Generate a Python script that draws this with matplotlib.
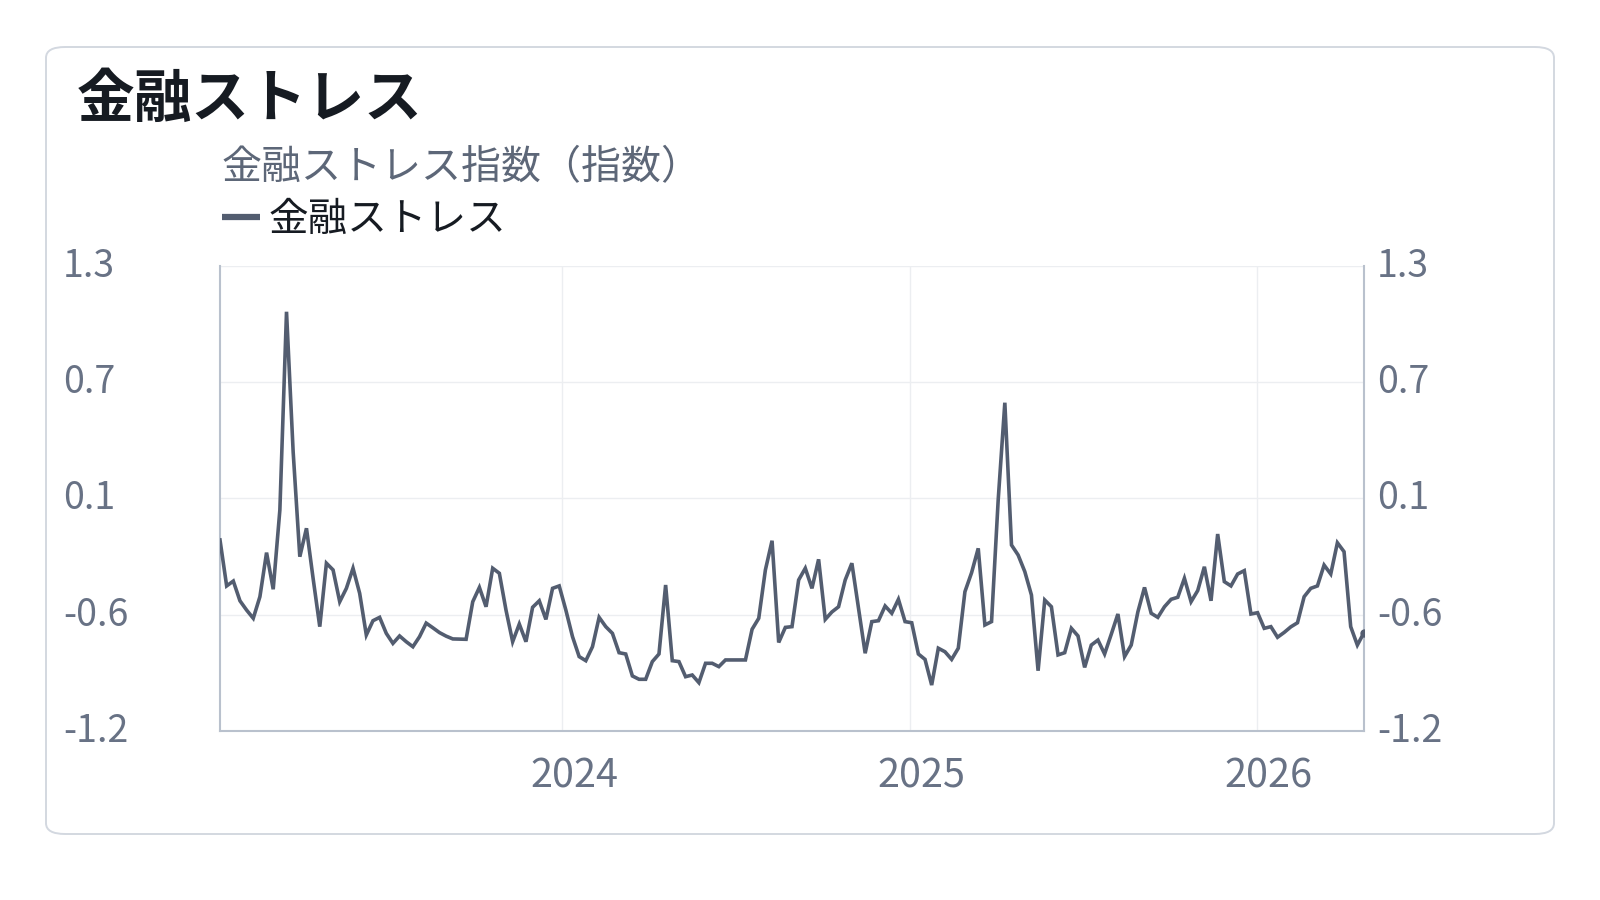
import matplotlib
matplotlib.use('Agg')
import matplotlib.pyplot as plt
import matplotlib.dates as mdates
from matplotlib.patches import FancyBboxPatch
from matplotlib.transforms import ScaledTranslation
import pandas as pd

plt.rcParams['font.family'] = ['Noto Sans CJK JP', 'DejaVu Sans']

# ---------------- data ----------------
title = '金融ストレス'
subtitle = '金融ストレス指数（指数）'
series_name = '金融ストレス'

start_date = '2023-01-06'
values = [
    -0.173, -0.42, -0.394, -0.50, -0.55, -0.594, -0.478, -0.241, -0.438, -0.012,
    1.054, 0.30, -0.263, -0.11, -0.38, -0.639, -0.298, -0.334, -0.505, -0.433,
    -0.325, -0.46, -0.684, -0.607, -0.589, -0.675, -0.729, -0.689, -0.72, -0.747,
    -0.693, -0.62, -0.645, -0.671, -0.69, -0.705, -0.706, -0.707, -0.505, -0.428,
    -0.532, -0.325, -0.352, -0.55, -0.72, -0.625, -0.72, -0.535, -0.50, -0.60,
    -0.433, -0.42, -0.55, -0.693, -0.80, -0.822, -0.747, -0.589, -0.639, -0.675,
    -0.779, -0.786, -0.904, -0.922, -0.922, -0.827, -0.786, -0.415, -0.822, -0.827,
    -0.908, -0.899, -0.94, -0.836, -0.836, -0.854, -0.818, -0.818, -0.818, -0.818,
    -0.653, -0.594, -0.334, -0.177, -0.724, -0.643, -0.639, -0.388, -0.325, -0.433,
    -0.277, -0.60, -0.56, -0.532, -0.388, -0.298, -0.54, -0.782, -0.612, -0.607,
    -0.528, -0.567, -0.492, -0.612, -0.618, -0.786, -0.815, -0.953, -0.755, -0.774,
    -0.815, -0.755, -0.451, -0.349, -0.218, -0.63, -0.612, 0.042, 0.565, -0.20,
    -0.254, -0.343, -0.469, -0.876, -0.496, -0.532, -0.791, -0.779, -0.648, -0.689,
    -0.858, -0.738, -0.711, -0.786, -0.68, -0.571, -0.80, -0.738, -0.56, -0.428,
    -0.567, -0.589, -0.532, -0.492, -0.481, -0.379, -0.505, -0.445, -0.317, -0.50,
    -0.141, -0.397, -0.42, -0.356, -0.338, -0.571, -0.564, -0.648, -0.639, -0.696,
    -0.67, -0.64, -0.618, -0.478, -0.433, -0.42, -0.308, -0.356, -0.188, -0.236,
    -0.639, -0.738, -0.671,
]
dates = pd.date_range(start_date, periods=len(values), freq='7D')

y_min, y_max = -1.2, 1.3
y_ticks = [1.3, 0.675, 0.05, -0.575, -1.2]
y_tick_labels = ['1.3', '0.7', '0.1', '-0.6', '-1.2']
x_tick_dates = pd.to_datetime(['2024-01-01', '2025-01-01', '2026-01-01'])
x_tick_labels = ['2024', '2025', '2026']

# ---------------- style ----------------
LINE = '#535d70'
AXIS = '#b9c1cd'
GRID = '#eceef1'
TICK = '#687285'
TITLE = '#161b22'
SUB = '#5d6778'
BORDER = '#d3d8e0'

W, H = 1600, 900
fig = plt.figure(figsize=(16, 9), dpi=100)
fig.patch.set_facecolor('white')

card = FancyBboxPatch((46 / W, 1 - 834 / H), (1554 - 46) / W, (834 - 47) / H,
                      boxstyle='round,pad=0,rounding_size=0.012',
                      transform=fig.transFigure, facecolor='white',
                      edgecolor=BORDER, linewidth=1.4, zorder=-5)
fig.patches.append(card)

ax = fig.add_axes([220 / W, 1 - 731 / H, (1364 - 220) / W, (731 - 266) / H])
ax.set_facecolor('none')

ax.plot(dates, values, color=LINE, linewidth=2.6, solid_joinstyle='miter',
        label=series_name, zorder=3)
ax.plot(dates[-1:], values[-1:], 'o', color=LINE, markersize=5, zorder=4)

ax.set_xlim(dates[0], dates[-1])
ax.set_ylim(y_min, y_max)

ax.set_yticks(y_ticks)
ax.set_yticklabels(y_tick_labels)
ax.set_xticks(x_tick_dates)
ax.set_xticklabels(x_tick_labels)

ax.grid(True, color=GRID, linewidth=1.0, zorder=0)
ax.spines['top'].set_visible(False)
for s in ['left', 'right', 'bottom']:
    ax.spines[s].set_color(AXIS)
    ax.spines[s].set_linewidth(1.5)

up = ScaledTranslation(0, 4 / 100, fig.dpi_scale_trans)
ax.tick_params(axis='y', length=0, pad=(220 - 63) * 0.72, labelsize=27,
               labelcolor=TICK)
for lab in ax.get_yticklabels():
    lab.set_horizontalalignment('left')
    lab.set_transform(lab.get_transform() + up)
ax.tick_params(axis='x', length=0, pad=18.5, labelsize=28.5, labelcolor=TICK)
for lab in ax.get_xticklabels():
    lab.set_transform(lab.get_transform() + ScaledTranslation(12 / 100, 0, fig.dpi_scale_trans))

ax2 = ax.twinx()
ax2.set_ylim(y_min, y_max)
ax2.set_yticks(y_ticks)
ax2.set_yticklabels(y_tick_labels)
ax2.tick_params(axis='y', length=0, pad=(1377 - 1364) * 0.72, labelsize=27,
                labelcolor=TICK)
for lab in ax2.get_yticklabels():
    lab.set_transform(lab.get_transform() + up)
for s in ax2.spines.values():
    s.set_visible(False)

fig.text(76.5 / W, 1 - 100 / H, title, fontsize=41.5, fontweight='bold',
         color=TITLE, va='center', ha='left')
fig.text(222 / W, 1 - 168 / H, subtitle, fontsize=28.8, color=SUB,
         va='center', ha='left')

leg = ax.legend(loc='center left', bbox_to_anchor=(222 / W, 1 - 220 / H),
                bbox_transform=fig.transFigure, frameon=False, fontsize=28.5,
                handlelength=0.95, handletextpad=0.22, borderpad=0,
                borderaxespad=0, labelcolor=TITLE)
for ln in leg.get_lines():
    ln.set_linewidth(4.5)
    ln.set_solid_capstyle('butt')

fig.savefig('out.png', dpi=100, facecolor='white')
